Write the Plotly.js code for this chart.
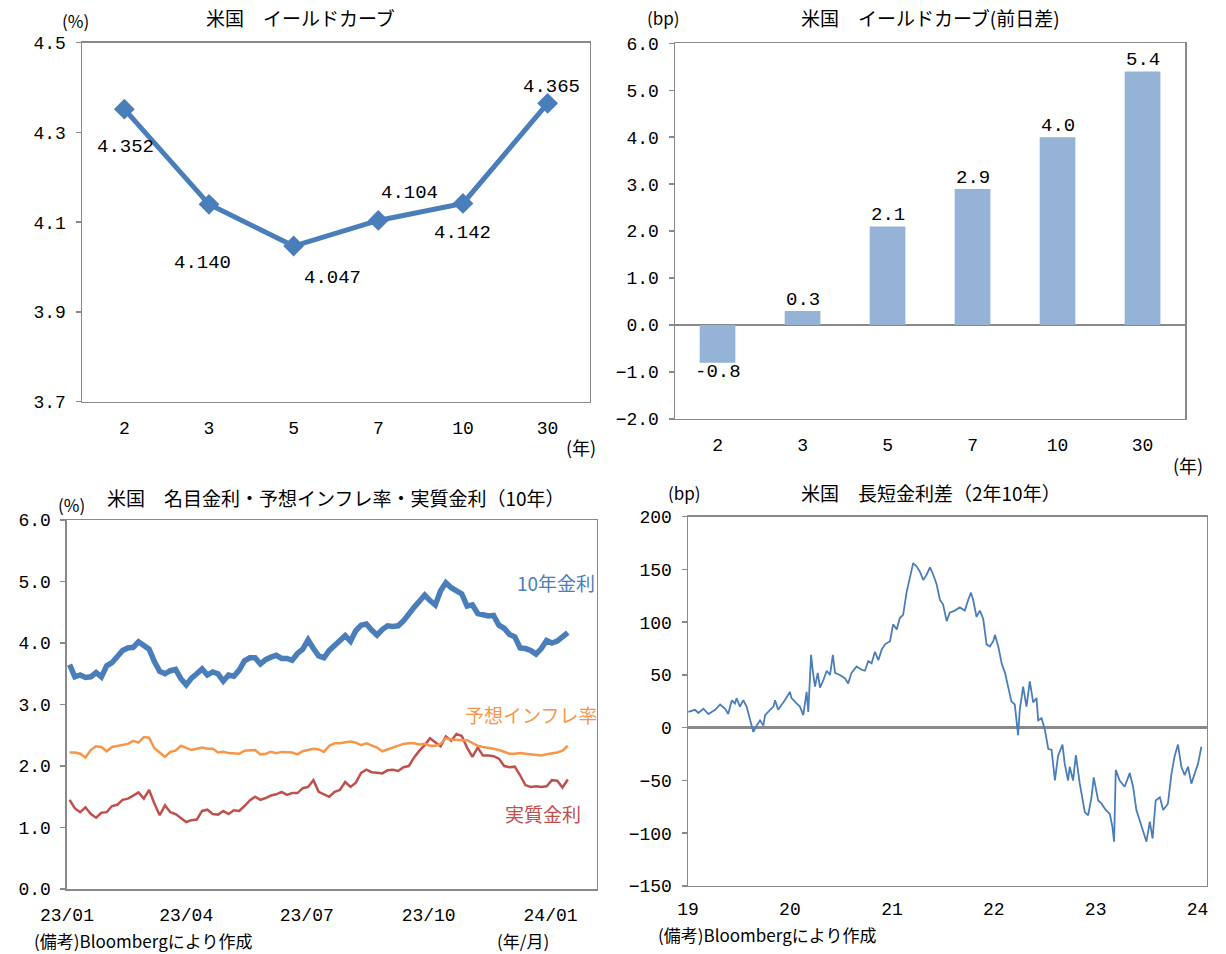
<!DOCTYPE html>
<html>
<head>
<meta charset="utf-8">
<script src="https://cdn.plot.ly/plotly-3.0.1.min.js"></script>
<style>html,body{margin:0;padding:0;background:#fff;}#chart{width:1226px;height:954px;}</style>
</head>
<body>
<div id="chart"></div>
<script>
// ---------- DATA ----------
const yieldTenors = ['2', '3', '5', '7', '10', '30'];
const yieldLevels = [4.352, 4.140, 4.047, 4.104, 4.142, 4.365];
const yieldChanges = [-0.8, 0.3, 2.1, 2.9, 4.0, 5.4];

const rateStartDate = '2023-01-03';
const rateStepDays = 4;
const nominal10y = [
  3.65, 3.45, 3.48, 3.44, 3.45, 3.52, 3.45, 3.63, 3.68, 3.77,
  3.88, 3.92, 3.93, 4.02, 3.97, 3.90, 3.70, 3.54, 3.50, 3.55,
  3.57, 3.42, 3.32, 3.43, 3.50, 3.58, 3.48, 3.53, 3.50, 3.38,
  3.48, 3.46, 3.56, 3.71, 3.76, 3.76, 3.66, 3.73, 3.77, 3.80,
  3.75, 3.75, 3.72, 3.83, 3.90, 4.05, 3.91, 3.79, 3.76, 3.88,
  3.96, 4.05, 4.12, 4.03, 4.20, 4.29, 4.31, 4.21, 4.13, 4.22,
  4.28, 4.27, 4.28, 4.36, 4.49, 4.58, 4.68, 4.78, 4.69, 4.62,
  4.85, 4.98, 4.90, 4.85, 4.80, 4.60, 4.62, 4.48, 4.45, 4.44,
  4.45, 4.29, 4.24, 4.14, 4.10, 3.92, 3.91, 3.88, 3.82, 3.91,
  4.04, 4.00, 4.03, 4.09, 4.17
];
const breakeven10y = [
  2.22, 2.22, 2.20, 2.14, 2.26, 2.32, 2.31, 2.24, 2.31, 2.33,
  2.34, 2.36, 2.41, 2.38, 2.47, 2.46, 2.29, 2.22, 2.15, 2.23,
  2.25, 2.33, 2.29, 2.26, 2.28, 2.30, 2.28, 2.28, 2.22, 2.23,
  2.21, 2.20, 2.20, 2.25, 2.26, 2.26, 2.19, 2.20, 2.23, 2.21,
  2.23, 2.22, 2.22, 2.19, 2.24, 2.26, 2.28, 2.27, 2.23, 2.33,
  2.37, 2.37, 2.38, 2.40, 2.38, 2.34, 2.37, 2.34, 2.30, 2.24,
  2.27, 2.31, 2.34, 2.36, 2.37, 2.37, 2.35, 2.36, 2.33, 2.33,
  2.36, 2.45, 2.43, 2.42, 2.42, 2.42, 2.37, 2.33, 2.31, 2.30,
  2.28, 2.26, 2.23, 2.20, 2.20, 2.21, 2.20, 2.19, 2.18, 2.17,
  2.19, 2.20, 2.22, 2.25, 2.33
];
const real10y = [
  1.45, 1.31, 1.25, 1.33, 1.22, 1.16, 1.24, 1.25, 1.35, 1.37,
  1.45, 1.47, 1.52, 1.57, 1.47, 1.61, 1.39, 1.20, 1.36, 1.25,
  1.22, 1.15, 1.09, 1.12, 1.13, 1.27, 1.29, 1.22, 1.21, 1.27,
  1.22, 1.28, 1.27, 1.35, 1.44, 1.50, 1.45, 1.48, 1.52, 1.54,
  1.58, 1.53, 1.56, 1.56, 1.64, 1.66, 1.77, 1.58, 1.54, 1.50,
  1.58, 1.61, 1.74, 1.66, 1.73, 1.89, 1.94, 1.90, 1.89, 1.88,
  1.93, 1.94, 1.92, 1.98, 2.00, 2.14, 2.25, 2.34, 2.45, 2.38,
  2.32, 2.48, 2.41, 2.52, 2.49, 2.30, 2.15, 2.30, 2.17, 2.17,
  2.16, 2.12, 2.00, 1.98, 1.99, 1.85, 1.69, 1.66, 1.67, 1.66,
  1.67, 1.77, 1.76, 1.65, 1.78
];

const spreadDates = [
  '2019-01-02','2019-01-26','2019-02-07','2019-02-25','2019-03-15','2019-04-08','2019-04-26','2019-05-14','2019-05-25','2019-06-07',
  '2019-06-18','2019-06-24','2019-07-06','2019-07-18','2019-07-30','2019-08-11','2019-08-23','2019-09-04','2019-09-16','2019-09-28',
  '2019-10-04','2019-10-22','2019-11-03','2019-11-09','2019-11-20','2019-12-03','2019-12-14','2020-01-01','2020-01-07','2020-01-25',
  '2020-02-06','2020-02-18','2020-03-01','2020-03-07','2020-03-13','2020-03-17','2020-03-23','2020-03-31','2020-04-10','2020-04-18',
  '2020-04-30','2020-05-12','2020-05-24','2020-06-03','2020-06-11','2020-06-28','2020-07-16','2020-07-28','2020-08-09','2020-08-27',
  '2020-09-14','2020-09-26',
  '2020-10-08','2020-10-20','2020-11-01','2020-11-13','2020-11-25','2020-12-07','2020-12-25','2021-01-05','2021-01-18','2021-01-29',
  '2021-02-10','2021-02-22','2021-03-06','2021-03-18','2021-03-30','2021-04-11','2021-04-23','2021-05-05','2021-05-17','2021-05-29',
  '2021-06-10','2021-06-22','2021-07-03','2021-07-16','2021-07-27','2021-08-14','2021-09-01','2021-09-19','2021-10-01','2021-10-11',
  '2021-10-19','2021-10-31','2021-11-12','2021-11-24','2021-12-06','2021-12-18','2021-12-30','2022-01-05','2022-01-17','2022-01-29',
  '2022-02-10','2022-02-21','2022-03-05','2022-03-17','2022-03-29','2022-04-04','2022-04-16','2022-04-28','2022-05-10','2022-05-22',
  '2022-06-03',
  '2022-06-09','2022-06-21','2022-07-03','2022-07-15','2022-07-27','2022-08-08','2022-08-19','2022-09-04','2022-09-12','2022-09-24',
  '2022-09-30','2022-10-12','2022-10-22','2022-11-05','2022-11-23','2022-12-05','2022-12-17','2022-12-25','2023-01-10','2023-01-22',
  '2023-02-06','2023-02-21','2023-03-02','2023-03-08','2023-03-14','2023-03-28','2023-04-15','2023-05-03','2023-05-15','2023-05-27',
  '2023-06-08','2023-06-20','2023-07-02','2023-07-14','2023-07-24','2023-08-04','2023-08-19','2023-08-31','2023-09-17','2023-09-30',
  '2023-10-11','2023-10-23','2023-11-04','2023-11-16','2023-11-28','2023-12-10','2023-12-22','2024-01-03','2024-01-15'
];
const spreadValues = [
  15, 17, 14, 18, 13, 17, 22, 18, 13, 26,
  23, 28, 20, 26, 20, 7, -4, 2, 7, 2,
  12, 17, 20, 26, 17, 22, 26, 34, 28, 23,
  20, 12, 34, 15, 45, 69, 54, 39, 52, 38,
  45, 54, 50, 69, 52, 50, 47, 42, 52, 58,
  55, 54,
  63, 61, 72, 64, 74, 79, 82, 98, 93, 104,
  107, 128, 142, 156, 153, 148, 140, 145, 152, 145,
  136, 121, 117, 101, 109, 111, 114, 111, 121, 128,
  121, 105, 111, 103, 79, 77, 82, 88, 77, 61,
  52, 39, 25, 22, -7, 17, 39, 20, 44, 24,
  28,
  7, 9, -2, -20, -21, -50, -27, -16, -34, -50,
  -37, -50, -26, -53, -80, -83, -66, -47, -69, -72,
  -78, -82, -94, -108, -40, -50, -56, -43, -56, -78,
  -88, -97, -108, -89, -105, -69, -66, -78, -72, -43,
  -27, -16, -37, -45, -37, -53, -43, -34, -18
];

const rateTickVals = ['2023-01-01', '2023-04-01', '2023-07-01', '2023-10-01', '2024-01-01'];
const rateTickText = ['23/01', '23/04', '23/07', '23/10', '24/01'];
const spreadTickVals = ['2019-01-01', '2020-01-01', '2021-01-01', '2022-01-01', '2023-01-01', '2024-01-01'];
const spreadTickText = ['19', '20', '21', '22', '23', '24'];

// ---------- STYLE ----------
const W = 1226, H = 954;
const NUM = 'Liberation Mono, DejaVu Sans Mono, monospace';
const JP = 'Noto Sans CJK JP, sans-serif';
const BLUE = '#4a7ebb', ORANGE = '#f79646', RED = '#c0504d', BAR = '#95b3d7';
const AXC = '#898989';

const rateDates = nominal10y.map((_, i) => {
  const d = new Date(rateStartDate + 'T00:00:00Z');
  d.setUTCDate(d.getUTCDate() + i * rateStepDays);
  return d.toISOString().slice(0, 10);
});

const traces = [
  { x: yieldTenors, y: yieldLevels, type: 'scatter', mode: 'lines+markers', xaxis: 'x', yaxis: 'y',
    line: { color: BLUE, width: 5 }, marker: { symbol: 'diamond', size: 16, color: BLUE }, hoverinfo: 'skip' },
  { x: yieldTenors, y: yieldChanges, type: 'bar', xaxis: 'x2', yaxis: 'y2', width: 0.42,
    marker: { color: BAR }, hoverinfo: 'skip' },
  { x: rateDates, y: real10y, type: 'scatter', mode: 'lines', xaxis: 'x3', yaxis: 'y3',
    line: { color: RED, width: 2.5 }, hoverinfo: 'skip' },
  { x: rateDates, y: breakeven10y, type: 'scatter', mode: 'lines', xaxis: 'x3', yaxis: 'y3',
    line: { color: ORANGE, width: 2.5 }, hoverinfo: 'skip' },
  { x: rateDates, y: nominal10y, type: 'scatter', mode: 'lines', xaxis: 'x3', yaxis: 'y3',
    line: { color: BLUE, width: 5.5 }, hoverinfo: 'skip' },
  { x: spreadDates, y: spreadValues, type: 'scatter', mode: 'lines', xaxis: 'x4', yaxis: 'y4',
    line: { color: BLUE, width: 1.8 }, hoverinfo: 'skip' }
];

function axisBase(extra) {
  return Object.assign({
    showline: true, mirror: true, linecolor: AXC, linewidth: 1.5,
    showgrid: false, zeroline: false, fixedrange: true,
    tickfont: { family: NUM, size: 18, color: '#000' }
  }, extra);
}
function yAxis(extra) {
  return axisBase(Object.assign({ ticks: 'outside', ticklen: 5, tickcolor: AXC, tickwidth: 1.5, ticklabelstandoff: 6 }, extra));
}
function xAxis(extra) {
  return axisBase(Object.assign({ ticks: '', ticklabelstandoff: 9 }, extra));
}

function px(x) { return x / W; }
function py(y) { return 1 - y / H; }
function note(text, x, y, size, color, family) {
  return { text: text, xref: 'paper', yref: 'paper', x: px(x), y: py(y), xanchor: 'center', yanchor: 'middle',
    showarrow: false, font: { family: family || JP, size: size, color: color || '#000' } };
}

// label offsets for the yield curve data labels (pixels)
const levelLabelShift = [[1, -38], [-6, -59], [39, -32], [31, 27], [0, -30], [4, 16]];
const levelAnnotations = yieldTenors.map((t, i) => ({
  text: yieldLevels[i].toFixed(3), xref: 'x', yref: 'y', x: i, y: yieldLevels[i],
  xshift: levelLabelShift[i][0], yshift: levelLabelShift[i][1], showarrow: false,
  font: { family: NUM, size: 19, color: '#000' }
}));
// bar value labels, just beyond each bar end
const changeAnnotations = yieldTenors.map((t, i) => ({
  text: yieldChanges[i].toFixed(1), xref: 'x2', yref: 'y2', x: i, y: yieldChanges[i],
  yshift: yieldChanges[i] >= 0 ? 11 : -9, showarrow: false,
  font: { family: NUM, size: 19, color: '#000' }
}));

const layout = {
  width: W, height: H, margin: { l: 0, r: 0, t: 0, b: 0 },
  paper_bgcolor: '#fff', plot_bgcolor: '#fff', showlegend: false,
  xaxis: xAxis({ domain: [0.0669, 0.4812], type: 'category', range: [-0.5, 5.5], anchor: 'y' }),
  yaxis: yAxis({ domain: [0.5789, 0.9552], range: [3.7, 4.5], tick0: 3.7, dtick: 0.2, tickformat: '.1f', anchor: 'x' }),
  xaxis2: xAxis({ domain: [0.5506, 0.9666], type: 'category', range: [-0.5, 5.5], anchor: 'y2' }),
  yaxis2: yAxis({ domain: [0.5608, 0.9546], range: [-2, 6], dtick: 1, tickformat: '.1f', anchor: 'x2',
    zeroline: true, zerolinecolor: AXC, zerolinewidth: 2 }),
  xaxis3: xAxis({ domain: [0.0546, 0.4869], type: 'date', range: ['2023-01-01', '2024-02-05'],
    tickmode: 'array', tickvals: rateTickVals, ticktext: rateTickText, anchor: 'y3' }),
  yaxis3: yAxis({ domain: [0.0681, 0.4549], range: [0, 6], dtick: 1, tickformat: '.1f', anchor: 'x3' }),
  xaxis4: xAxis({ domain: [0.5612, 0.9845], type: 'date', range: ['2019-01-01', '2024-02-04'],
    tickmode: 'array', tickvals: spreadTickVals, ticktext: spreadTickText, anchor: 'y4', ticklabelstandoff: 6 }),
  yaxis4: yAxis({ domain: [0.0713, 0.4584], range: [-150, 200], dtick: 50, anchor: 'x4',
    zeroline: true, zerolinecolor: AXC, zerolinewidth: 2.5 }),
  annotations: levelAnnotations.concat(changeAnnotations, [
    note('米国　イールドカーブ', 300, 18, 19),
    note('(%)', 75, 20, 17),
    note('(年)', 581, 447, 18),
    note('米国　イールドカーブ(前日差)', 930, 17, 19),
    note('(bp)', 663, 17, 17),
    note('(年)', 1188, 465, 18),
    note('米国　名目金利・予想インフレ率・実質金利（10年）', 336, 497, 19),
    note('(%)', 71, 505, 17),
    note('10年金利', 556, 582, 19, BLUE),
    note('予想インフレ率', 531, 714, 19, ORANGE),
    note('実質金利', 543, 813, 19, RED),
    note('(備考)Bloombergにより作成', 143, 940, 17),
    note('(年/月)', 523, 940, 17),
    note('米国　長短金利差（2年10年）', 931, 493, 19),
    note('(bp)', 684, 493, 17),
    note('(備考)Bloombergにより作成', 767, 934, 17)
  ])
};

Plotly.newPlot('chart', traces, layout, { displayModeBar: false, staticPlot: true });
</script>
</body>
</html>
